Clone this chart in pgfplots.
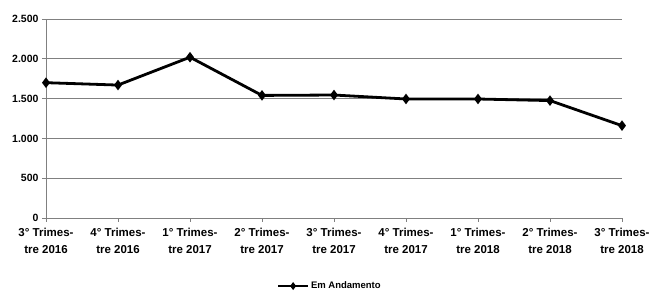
\documentclass[border=0pt]{standalone}
\usepackage{pgfplots}
\pgfplotsset{compat=1.18}
\usepackage{fontspec}
\setmainfont{Liberation Sans}
\definecolor{gridgray}{RGB}{128,128,128}
\begin{document}
\begin{tikzpicture}
\path[use as bounding box] (-46pt,-73pt) rectangle (606pt,218pt);
\begin{axis}[
  at={(0,0)}, anchor=south west,
  scale only axis, width=576pt, height=199pt,
  xmin=0, xmax=8, ymin=0, ymax=2500,
  axis lines*=left,
  axis line style={gridgray, line width=0.8pt},
  ytick={0,500,1000,1500,2000,2500},
  yticklabels={0,500,1.000,1.500,2.000,2.500},
  xtick={0,...,8},
  xticklabels={{3° Trimes-\\tre 2016},{4° Trimes-\\tre 2016},{1° Trimes-\\tre 2017},{2° Trimes-\\tre 2017},{3° Trimes-\\tre 2017},{4° Trimes-\\tre 2017},{1° Trimes-\\tre 2018},{2° Trimes-\\tre 2018},{3° Trimes-\\tre 2018}},
  xticklabel style={align=center, font=\bfseries\fontsize{11.5}{16.5}\selectfont, yshift=-3pt},
  yticklabel style={font=\bfseries\fontsize{10.5}{12}\selectfont},
  tick style={gridgray, line width=0.8pt},
  tick align=outside,
  major tick length=4pt,
  ymajorgrids, grid style={gridgray, line width=0.8pt},
  clip=false,
  legend style={at={(0.493,-0.342)}, anchor=center, draw=none, font=\bfseries\fontsize{9.5}{11}\selectfont, inner sep=1pt},
  legend image code/.code={\draw[mark repeat=2,mark phase=2,#1, line width=1.8pt, mark size=2.5pt] plot coordinates {(0pt,0pt)(15pt,0pt)(30pt,0pt)};},
]
\addplot[black, line width=2.8pt, mark=diamond*, mark size=3pt] coordinates {
  (0,1700) (1,1670) (2,2020) (3,1540) (4,1545) (5,1495) (6,1495) (7,1475) (8,1160)
};
\addlegendentry{Em Andamento}
\end{axis}
\end{tikzpicture}
\end{document}
